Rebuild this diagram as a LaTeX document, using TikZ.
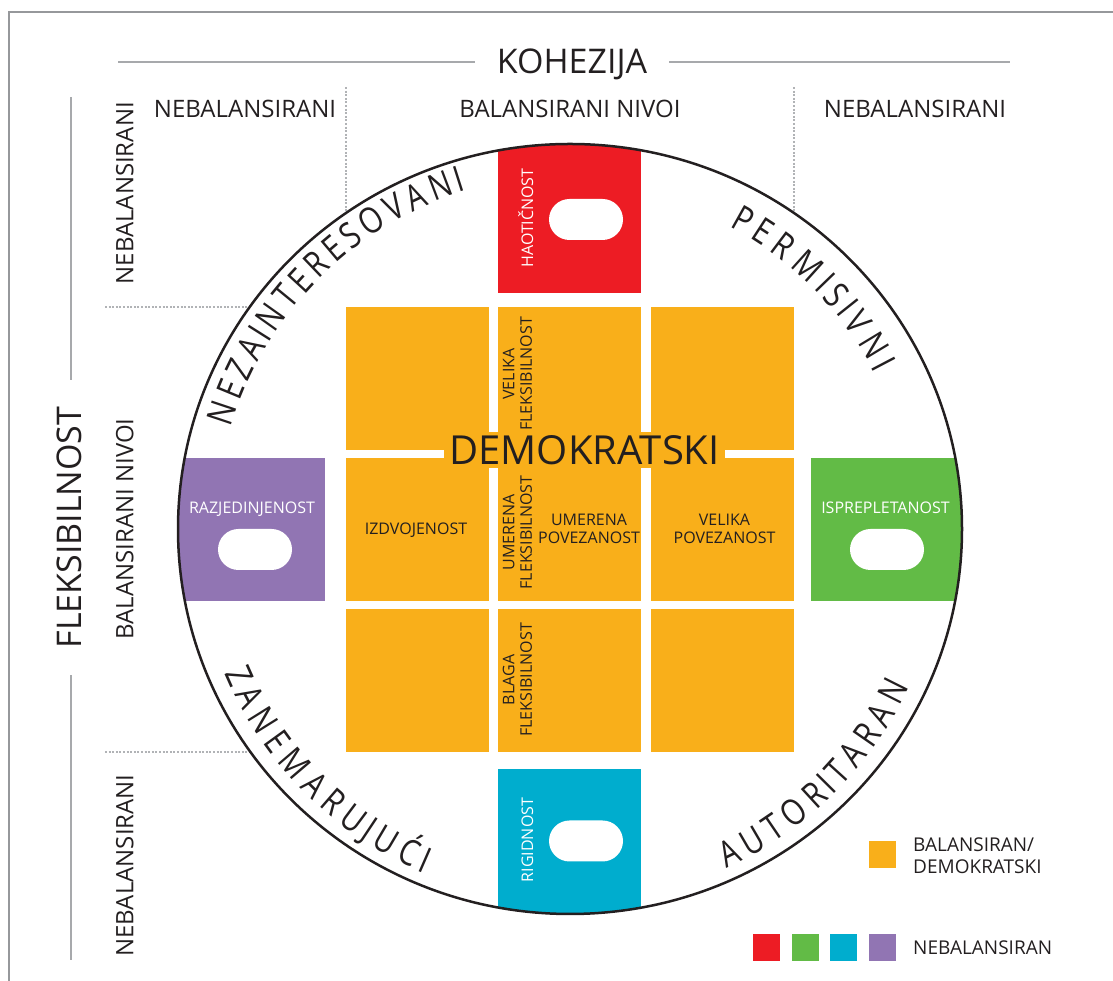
\documentclass[tikz,border=0pt]{standalone}
\usepackage{fontspec}
\setmainfont{Open Sans}
\newfontfamily\arcfam[FakeStretch=0.82]{Open Sans}
\usepackage{tikz}
\usetikzlibrary{decorations.text}

\definecolor{demo}{HTML}{F9AF1A}
\definecolor{haos}{HTML}{ED1C24}
\definecolor{isprep}{HTML}{62BB46}
\definecolor{rigid}{HTML}{00ADCE}
\definecolor{razjed}{HTML}{9175B3}
\definecolor{ink}{HTML}{231F20}
\definecolor{rulegrey}{HTML}{A7A9AC}
\definecolor{dotgrey}{HTML}{B1B3B6}

\newcommand{\fsize}[1]{\fontsize{#1}{#1}\selectfont}
\newcommand{\arcfont}{\arcfam\fontsize{36}{36}\selectfont}

\begin{document}
\begin{tikzpicture}
            [
            x=1pt, y=1pt,
            frame/.style={draw=rulegrey!90!black, line width=1.5pt},
            axisline/.style={draw=rulegrey, line width=2.5pt},
            gridline/.style={draw=dotgrey, line width=2pt, dash pattern=on 2pt off 1.6pt},
            square/.style={fill=demo, minimum width=143pt, minimum height=143pt, inner sep=0pt},
            pill/.style={fill=white, minimum width=74pt, minimum height=41pt,
                rounded corners=20.5pt, inner sep=0pt},
            boxlabel/.style={text=white, font=\fsize{16}, inner sep=0pt},
            cell/.style={text=ink, font={\fontsize{16}{17.5}\selectfont}, align=center, inner sep=0pt},
            axis/.style={text=ink, font=\fsize{34}, inner sep=0pt},
            level/.style={text=ink, font=\fsize{24}, inner sep=0pt},
            legbox/.style={minimum width=27pt, minimum height=27pt, inner sep=0pt},
            legtext/.style={text=ink, font={\fontsize{19}{21.6}\selectfont}, align=left, inner sep=0pt},
            arclabel/.style={font=\arcfont, decorate, decoration={text effects along path,
                text={\arcfont #1}, text effects/.cd, text along path, fit text to path,
                characters={text=ink, anchor=base, inner sep=0pt}}},
            ]
            \useasboundingbox (0,0) rectangle (1113,981);
            % Frame
            \draw[frame] (9,0) -- (9,969) -- (1113,969);

            % Axes
            \coordinate (kohL) at (118,919);
            \coordinate (kohR) at (1010,919);
            \coordinate (flexT) at (71,884);
            \coordinate (flexB) at (71,21);
            \draw[axisline] (kohL) -- (kohR);
            \draw[axisline] (flexT) -- (flexB);
            \node[axis, fill=white, inner xsep=22pt, anchor=base] (koh) at (572,907) {KOHEZIJA};
            \node[axis, fill=white, inner xsep=27pt, rotate=90, anchor=base] (flex) at (81.7,453.5) {FLEKSIBILNOST};

            % Levels
            \node[level, anchor=base] (nbTL) at (245,863.7) {NEBALANSIRANI};
            \node[level, anchor=base] (bnT) at (570,863.7) {BALANSIRANI NIVOI};
            \node[level, anchor=base] (nbTR) at (915,863.7) {NEBALANSIRANI};
            \node[level, anchor=base, rotate=90] (nbLT) at (133.3,787.7) {NEBALANSIRANI};
            \node[level, anchor=base, rotate=90] (bnL) at (133.3,452) {BALANSIRANI NIVOI};
            \node[level, anchor=base, rotate=90] (nbLB) at (133.3,115.5) {NEBALANSIRANI};

            % Dotted grid
            \draw[gridline] (346,894) -- (346,674);
            \draw[gridline] (794,894) -- (794,674);
            \draw[gridline] (105,674) -- (346,674);
            \draw[gridline] (105,229) -- (346,229);

            % Circle
            \fill[white] (570,452) ellipse [x radius=392, y radius=385];
            \begin{scope}
                \clip (570,452) ellipse [x radius=392, y radius=385];
                \fill[haos] (498,688) rectangle (641,860);
                \fill[rigid] (498,212) rectangle (641,50);
                \fill[razjed] (160,380) rectangle (325,523);
                \fill[isprep] (811,380) rectangle (980,523);
            \end{scope}
            \draw[ink, line width=2.5pt] (570,452) ellipse [x radius=392, y radius=385];

            % Balanced squares
            \node[square] (sqTL) at (417.5,602.5) {};
            \node[square] (sqTM) at (569.5,602.5) {};
            \node[square] (sqTR) at (722.5,602.5) {};
            \node[square] (sqML) at (417.5,451.5) {};
            \node[square] (sqMM) at (569.5,451.5) {};
            \node[square] (sqMR) at (722.5,451.5) {};
            \node[square] (sqBL) at (417.5,300.5) {};
            \node[square] (sqBM) at (569.5,300.5) {};
            \node[square] (sqBR) at (722.5,300.5) {};
            \node[fill=demo, text=ink, font=\fsize{40}, minimum width=281pt, minimum height=36pt,
                inner sep=0pt] (demo) at (584.5,531) {DEMOKRATSKI};

            % Cell labels
            \node[cell, rotate=90] (flexV) at (517.5,607) {VELIKA\\FLEKSIBILNOST};
            \node[cell, rotate=90] (flexU) at (517.5,448.5) {UMERENA\\FLEKSIBILNOST};
            \node[cell, rotate=90] (flexB) at (517.5,301) {BLAGA\\FLEKSIBILNOST};
            \node[cell, anchor=base] (izdv) at (416,446) {IZDVOJENOST};
            \node[cell] (povU) at (589,452) {UMERENA\\POVEZANOST};
            \node[cell] (povV) at (724.5,452) {VELIKA\\POVEZANOST};

            % Unbalanced boxes
            \node[boxlabel, rotate=90, anchor=base] (haot) at (533,763) {HAOTIČNOST};
            \node[boxlabel, rotate=90, anchor=base] (rigi) at (533,141) {RIGIDNOST};
            \node[boxlabel, anchor=base] (razj) at (252,467) {RAZJEDINJENOST};
            \node[boxlabel, anchor=base] (ispr) at (885.5,467) {ISPREPLETANOST};
            \node[pill] (pillH) at (586,761.5) {};
            \node[pill] (pillR) at (586,140) {};
            \node[pill] (pillZ) at (255,431.5) {};
            \node[pill] (pillI) at (887,431.5) {};

            % Family types along the circle
            \path[arclabel=NEZAINTERESOVANI, shift={(570,452)}] (164:354) arc[start angle=164, end angle=107, radius=354];
            \path[arclabel=PERMISIVNI, shift={(570,452)}] (63:342) arc[start angle=63, end angle=27, radius=342];
            \path[arclabel=ZANEMARUJUĆI, shift={(570,452)}] (202:374) arc[start angle=202, end angle=247, radius=374];
            \path[arclabel=AUTORITARAN, shift={(570,452)}] (294:374) arc[start angle=294, end angle=335, radius=374];

            % Legend
            \node[legbox, fill=demo] (legD) at (882.5,126.7) {};
            \node[legtext, anchor=west] (legDt) at (913,125.3) {BALANSIRAN/\\DEMOKRATSKI};
            \node[legbox, fill=haos] (legH) at (766.4,33.5) {};
            \node[legbox, fill=isprep] (legI) at (805.4,33.5) {};
            \node[legbox, fill=rigid] (legR) at (843.5,33.5) {};
            \node[legbox, fill=razjed] (legZ) at (882.5,33.5) {};
            \node[legtext, anchor=base west] (legNt) at (913,26) {NEBALANSIRAN};
\end{tikzpicture}
\end{document}
